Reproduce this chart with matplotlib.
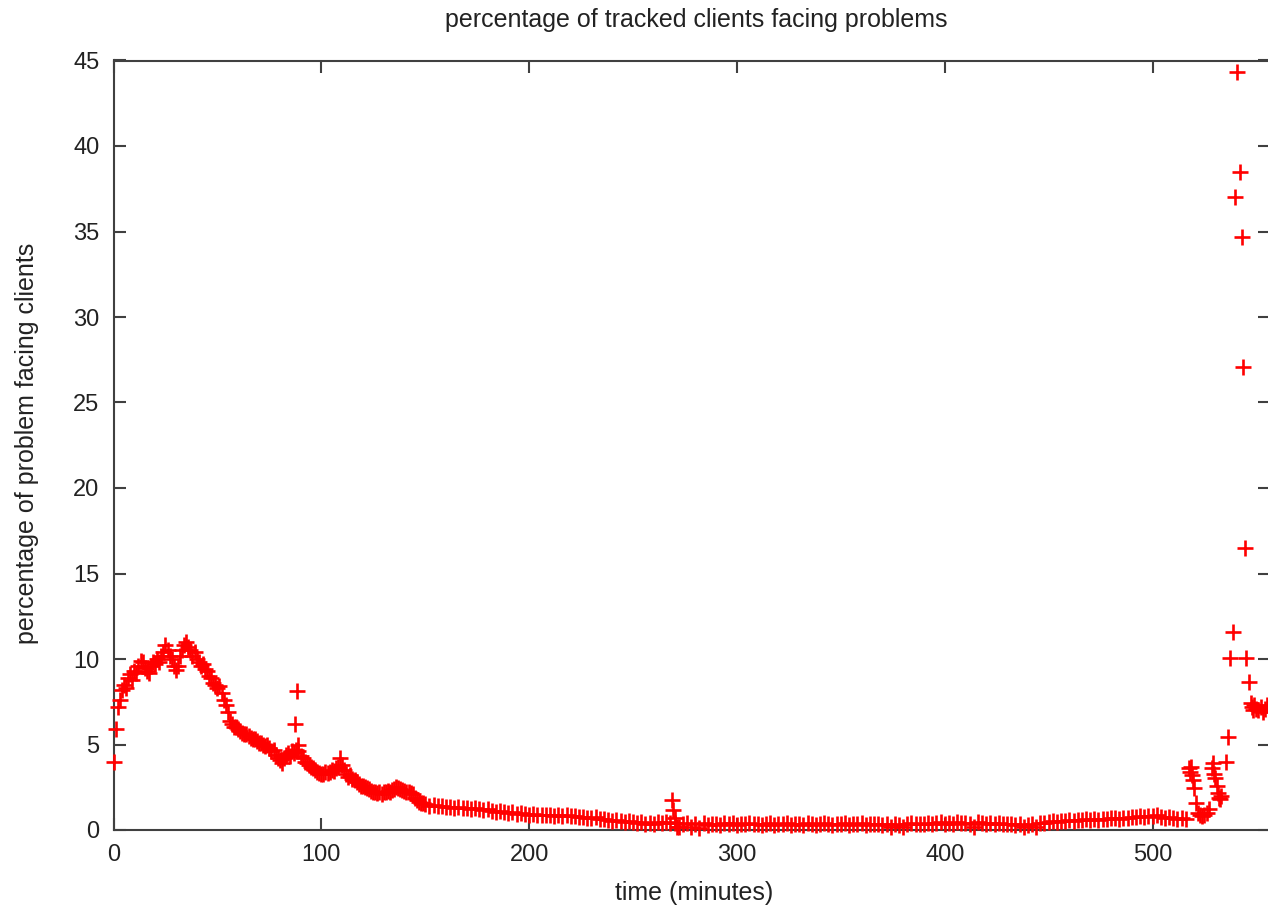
import numpy as np
import matplotlib
matplotlib.use('Agg')
import matplotlib.pyplot as plt

plt.rcParams['font.family'] = ['Liberation Sans', 'DejaVu Sans']

# minute by minute, 0..149
v_early = [4.0, 5.9, 7.2, 7.6, 8.2, 8.5, 8.3, 8.9, 9.1, 8.8,
           9.3, 9.2, 9.6, 9.9, 9.8, 9.5, 9.3, 9.2, 9.6, 9.8,
           9.7, 10.0, 9.8, 10.2, 10.4, 10.8, 10.5, 10.2, 10.0, 9.6,
           9.35, 9.6, 10.2, 10.5, 10.8, 11.0, 10.7, 10.5, 10.2, 10.4,
           10.0, 9.8, 9.6, 9.7, 9.4, 9.3, 9.0, 8.9, 8.6, 8.5,
           8.3, 8.4, 8.0, 7.6, 7.3, 6.9, 6.4, 6.2, 6.0, 6.0,
           5.9, 5.8, 5.7, 5.6, 5.6, 5.5, 5.4, 5.35, 5.3, 5.2,
           5.1, 5.1, 5.0, 4.9, 5.0, 4.8, 4.6, 4.7, 4.4, 4.2,
           4.1, 3.9, 4.2, 4.4, 4.5, 4.3, 4.6, 4.5, 4.7, 4.6,
           4.3, 4.2, 4.0, 3.9, 3.8, 3.7, 3.6, 3.5, 3.4, 3.35,
           3.3, 3.3, 3.4, 3.35, 3.4, 3.5, 3.45, 3.6, 3.7, 4.2,
           3.8, 3.5, 3.3, 3.1, 3.2, 3.0, 2.9, 2.8, 2.7, 2.6,
           2.6, 2.5, 2.45, 2.4, 2.3, 2.25, 2.2, 2.15, 2.2, 2.1,
           2.2, 2.25, 2.3, 2.2, 2.35, 2.4, 2.5, 2.45, 2.4, 2.35,
           2.3, 2.2, 2.25, 2.15, 2.1, 1.9, 1.75, 1.65, 1.6, 1.55]

# every two minutes, 150..516
v_mid = [1.50, 1.42, 1.45, 1.38, 1.40, 1.33, 1.36, 1.30, 1.34, 1.28,
         1.30, 1.24, 1.27, 1.20, 1.16, 1.20, 1.12, 1.08, 1.10, 1.04,
         1.00, 1.04, 0.95, 0.98, 0.92, 0.88, 0.94, 0.86, 0.90, 0.85,
         0.88, 0.82, 0.90, 0.84, 0.86, 0.80, 0.84, 0.78, 0.74, 0.72,
         0.70, 0.74, 0.66, 0.62, 0.60, 0.55, 0.58, 0.50, 0.48, 0.52,
         0.45, 0.40, 0.48, 0.38, 0.42, 0.36, 0.44, 0.40, 0.46, 0.42,
         0.40, 0.15, 0.35, 0.42, 0.20, 0.38, 0.12, 0.40, 0.30, 0.36,
         0.38, 0.32, 0.40, 0.35, 0.42, 0.30, 0.38, 0.36, 0.40, 0.34,
         0.38, 0.30, 0.36, 0.40, 0.32, 0.38, 0.35, 0.42, 0.28, 0.36,
         0.38, 0.32, 0.40, 0.34, 0.30, 0.38, 0.42, 0.35, 0.32, 0.38,
         0.36, 0.40, 0.32, 0.38, 0.34, 0.40, 0.30, 0.36, 0.38, 0.33,
         0.30, 0.36, 0.15, 0.38, 0.32, 0.18, 0.36, 0.40, 0.34, 0.38,
         0.36, 0.42, 0.38, 0.40, 0.44, 0.36, 0.42, 0.38, 0.45, 0.40,
         0.42, 0.38, 0.20, 0.44, 0.40, 0.36, 0.42, 0.38, 0.40, 0.35,
         0.38, 0.34, 0.30, 0.36, 0.15, 0.32, 0.38, 0.20, 0.40, 0.42,
         0.46, 0.50, 0.48, 0.55, 0.52, 0.58, 0.54, 0.60, 0.56, 0.62,
         0.58, 0.64, 0.60, 0.66, 0.62, 0.68, 0.70, 0.64, 0.72, 0.68,
         0.74, 0.78, 0.82, 0.76, 0.84, 0.80, 0.86, 0.78, 0.72, 0.76,
         0.70, 0.66, 0.72, 0.64]

# irregular points: outliers and the final burst
t_extra = [87.3, 88.2, 89.0, 268.6, 269.3, 270.0, 271.0,
           517.5, 518.0, 518.5, 519.0, 519.5, 520.0, 521.0, 522.0, 523.0,
           524.0, 525.0, 526.0, 527.0, 528.5, 529.0, 529.5, 530.0, 531.0,
           531.5, 532.0, 532.5, 533.0, 535.3, 536.3, 537.3, 538.7, 539.7,
           540.7, 542.0, 543.0, 543.4, 544.5, 545.0, 546.4, 547.5, 548.0,
           548.5, 549.0, 550.0, 551.0, 552.0, 553.0, 554.0, 555.0, 556.0]
v_extra = [6.2, 8.1, 5.0, 1.75, 1.17, 0.7, 0.17,
           3.6, 3.4, 3.7, 3.2, 2.9, 2.45, 1.55, 1.0, 0.85,
           0.8, 0.9, 1.0, 1.2, 3.6, 3.9, 3.3, 3.05, 2.6,
           2.15, 1.9, 1.8, 2.0, 4.0, 5.45, 10.05, 11.6, 37.0,
           44.3, 38.5, 34.7, 27.1, 16.5, 10.05, 8.65, 7.4, 7.2,
           7.0, 7.3, 7.1, 7.0, 7.2, 6.9, 7.1, 7.3, 7.2]

t_early = np.arange(len(v_early))
t_mid = 150 + 2 * np.arange(len(v_mid))
t = np.concatenate([t_early, t_mid, t_extra])
v = np.concatenate([v_early, v_mid, v_extra])

W, H = 1268, 911
fig = plt.figure(figsize=(W / 100, H / 100), dpi=100)
left, right, top, bottom = 113.5, 1269.5, 60.5, 830.0
ax = fig.add_axes([left / W, 1 - bottom / H, (right - left) / W, (bottom - top) / H])

# gnuplot style: points are not clipped at the border
ax.plot(t, v, linestyle='none', marker='+', color='#ff0000',
        markersize=11, markeredgewidth=1.9, clip_on=False, zorder=3)

ax.set_xlim(0, (right - left) / 2.078)
ax.set_ylim(0, 45)
ax.set_xticks([0, 100, 200, 300, 400, 500])
ax.set_yticks(range(0, 46, 5))
for s in ax.spines.values():
    s.set_color('#404040')
    s.set_linewidth(1.5)
ax.tick_params(direction='in', length=8.5, width=1.5, color='#404040',
               top=True, right=True, labelsize=17, labelcolor='#222222')
ax.tick_params(axis='x', pad=10)
ax.tick_params(axis='y', pad=10)

fig.text(696 / W, 1 - 20 / H, 'percentage of tracked clients facing problems',
         ha='center', va='center', fontsize=18, color='#222222')
fig.text(694 / W, 1 - 893 / H, 'time (minutes)',
         ha='center', va='center', fontsize=18, color='#222222')
fig.text(27 / W, 1 - 443 / H, 'percentage of problem facing clients',
         ha='center', va='center', rotation=90, fontsize=18, color='#222222')

fig.savefig('out.png', dpi=100)
